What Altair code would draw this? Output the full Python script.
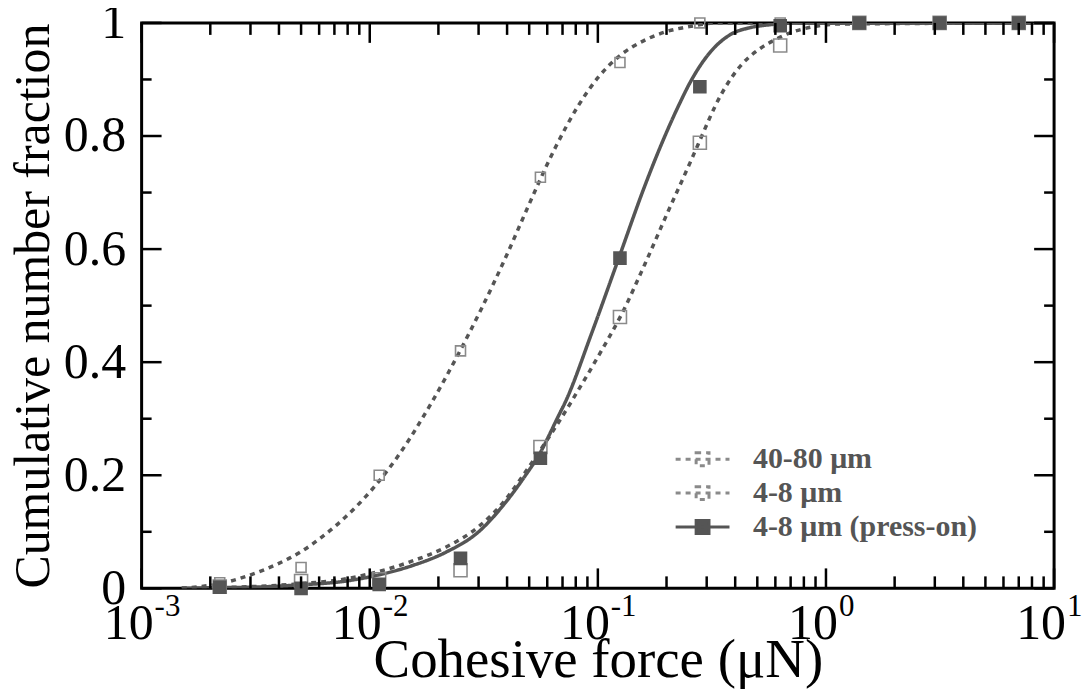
import altair as alt
import pandas as pd

series_names = ["40-80 μm", "4-8 μm", "4-8 μm (press-on)"]

# measured points (Cohesive force in µN, cumulative fraction)
pt_x = [0.0022, 0.005, 0.011, 0.025, 0.056, 0.125, 0.28, 0.63, 1.4, 3.15, 7.0]
pt_y_4080 = [0.003, 0.013, 0.016, 0.032, 0.25, 0.48, 0.788, 0.96, 1.0, 1.0, 1.0]
pt_y_48 = [0.01, 0.037, 0.2, 0.42, 0.727, 0.93, 1.0, 1.0, 1.0, 1.0, 1.0]
pt_y_press = [0.002, 0.0, 0.007, 0.053, 0.23, 0.584, 0.887, 0.995, 1.0, 1.0, 1.0]

# fitted curves
fit_x_48 = [0.0015, 0.0018, 0.00219, 0.00296, 0.00389, 0.00491, 0.00618, 0.00787, 0.00964,
            0.01178, 0.01315, 0.0187, 0.0245, 0.031, 0.0394, 0.0482, 0.055, 0.0652, 0.0822,
            0.1005, 0.123, 0.1614, 0.1973, 0.2564, 0.3365, 10]
fit_y_48 = [0.0, 0.003, 0.008, 0.023, 0.042, 0.063, 0.091, 0.127, 0.163,
            0.205, 0.231, 0.329, 0.415, 0.496, 0.585, 0.665, 0.717, 0.78, 0.854,
            0.904, 0.94, 0.97, 0.984, 0.994, 1.0, 1.0]

fit_x_4080 = [0.0015, 0.002, 0.003, 0.0049, 0.0079, 0.011, 0.0153, 0.0216, 0.030, 0.0394,
              0.0482, 0.055, 0.0721, 0.0797, 0.1036, 0.1268, 0.1614, 0.2034, 0.2564, 0.275,
              0.3467, 0.424, 0.503, 0.597, 0.7015, 0.807, 1.125, 10]
fit_y_4080 = [0.0, 0.001, 0.003, 0.008, 0.017, 0.03, 0.048, 0.073, 0.109, 0.157,
              0.206, 0.24, 0.313, 0.342, 0.42, 0.484, 0.575, 0.667, 0.757, 0.785,
              0.873, 0.925, 0.952, 0.97, 0.983, 0.99, 0.998, 1.0]

fit_x_press = [0.0015, 0.002, 0.003, 0.0049, 0.0079, 0.011, 0.0153, 0.0216, 0.030, 0.0394,
               0.0482, 0.055, 0.0672, 0.0721, 0.0937, 0.123, 0.1614, 0.184, 0.2249,
               0.2564, 0.3135, 0.3834, 0.4688, 0.573, 0.75, 10]
fit_y_press = [0.0, 0.001, 0.002, 0.006, 0.013, 0.024, 0.04, 0.064, 0.1, 0.152,
               0.2, 0.235, 0.305, 0.33, 0.45, 0.582, 0.714, 0.772, 0.852,
               0.898, 0.95, 0.98, 0.992, 0.997, 1.0, 1.0]

# axis ticks
x_major_ticks = [0.001, 0.01, 0.1, 1, 10]
x_tick_exponents = ["-3", "-2", "-1", "0", "1"]
x_minor_ticks = [0.002, 0.003, 0.004, 0.005, 0.006, 0.007, 0.008, 0.009,
                 0.02, 0.03, 0.04, 0.05, 0.06, 0.07, 0.08, 0.09,
                 0.2, 0.3, 0.4, 0.5, 0.6, 0.7, 0.8, 0.9,
                 2, 3, 4, 5, 6, 7, 8, 9]
y_major_ticks = [0, 0.2, 0.4, 0.6, 0.8, 1.0]
y_minor_ticks = [0.1, 0.3, 0.5, 0.7, 0.9]

W, H = 915, 567
FONT = "Liberation Serif"
GRAY = "#555555"

pts_rows = []
for name, ys in zip(series_names, [pt_y_4080, pt_y_48, pt_y_press]):
    for x, y in zip(pt_x, ys):
        pts_rows.append({"series": name, "force": x, "frac": y})
pts = pd.DataFrame(pts_rows)

fit_rows = []
for name, xs, ys in zip(series_names, [fit_x_4080, fit_x_48, fit_x_press],
                        [fit_y_4080, fit_y_48, fit_y_press]):
    for i, (x, y) in enumerate(zip(xs, ys)):
        fit_rows.append({"series": name, "force": x, "frac": y, "order": i})
fits = pd.DataFrame(fit_rows)

xscale = alt.Scale(type="log", domain=[0.001, 10], nice=False)
yscale = alt.Scale(domain=[0, 1], nice=False, zero=False)

x_axis = alt.Axis(labels=False, ticks=False, domain=False, grid=False,
                  title="Cohesive force (μN)", titleFontSize=55, titlePadding=45)
y_axis = alt.Axis(values=y_major_ticks, format="~g", labelFontSize=50, ticks=False,
                  domain=False, grid=False, labelPadding=16,
                  title="Cumulative number fraction", titleFontSize=50, titlePadding=5)

def X(field):
    return alt.X(field, scale=xscale, axis=x_axis)

def Y(field):
    return alt.Y(field, scale=yscale, axis=y_axis)

# legend symbol: a line 3.6 units long with a square in the middle
legend_path = "M-1.8,0H1.8M-0.43,-0.43H0.43V0.43H-0.43Z"
legend_def = alt.Legend(
    title=None, orient="none", legendX=546, legendY=421,
    symbolType=legend_path, symbolSize=900, symbolStrokeColor=GRAY,
    symbolStrokeWidth=3, labelFont=FONT, labelFontSize=30, labelFontWeight="bold",
    labelColor=GRAY, labelOffset=34, labelLimit=500, rowPadding=2, padding=0,
)

dash_scale = alt.Scale(domain=series_names, range=[[5, 5], [5, 5], [1, 0]])
fill_scale = alt.Scale(domain=series_names, range=["transparent", "transparent", GRAY])
stroke_scale = alt.Scale(domain=series_names, range=["#8a8a8a", "#8a8a8a", GRAY])

lines = alt.Chart(fits).mark_line(color=GRAY, strokeWidth=3.5, interpolate="monotone", clip=True).encode(
    x=X("force:Q"), y=Y("frac:Q"),
    strokeDash=alt.StrokeDash("series:N", scale=dash_scale, legend=legend_def),
    order="order:Q",
)

point_sizes = {series_names[0]: 170, series_names[1]: 100, series_names[2]: 144}
point_layers = []
for name in series_names:
    point_layers.append(
        alt.Chart(pts[pts["series"] == name]).mark_point(
            shape="square", filled=True, strokeWidth=1.6, opacity=1, size=point_sizes[name]
        ).encode(
            x=X("force:Q"), y=Y("frac:Q"),
            fill=alt.Fill("series:N", scale=fill_scale, legend=legend_def),
            stroke=alt.Stroke("series:N", scale=stroke_scale, legend=None),
        )
    )

xmaj = pd.DataFrame({"v": x_major_ticks, "e": x_tick_exponents})
xmin = pd.DataFrame({"v": x_minor_ticks})
ymaj = pd.DataFrame({"v": y_major_ticks})
ymin = pd.DataFrame({"v": y_minor_ticks})

def xticks(df, length):
    base = alt.Chart(df).mark_rule(color="black", strokeWidth=2.5)
    bottom = base.encode(x=X("v:Q"), y=alt.value(H), y2=alt.value(H - length))
    top = base.encode(x=X("v:Q"), y=alt.value(0), y2=alt.value(length))
    return [bottom, top]

def yticks(df, length):
    base = alt.Chart(df).mark_rule(color="black", strokeWidth=2.5)
    left = base.encode(y=Y("v:Q"), x=alt.value(0), x2=alt.value(length))
    right = base.encode(y=Y("v:Q"), x=alt.value(W), x2=alt.value(W - length))
    return [left, right]

tick_layers = xticks(xmaj, 20) + xticks(xmin, 12) + yticks(ymaj, 20) + yticks(ymin, 10)

lab10 = alt.Chart(xmaj).mark_text(font=FONT, fontSize=50, align="right", baseline="alphabetic",
                                   dx=12, color="black").encode(
    x=X("v:Q"), y=alt.value(H + 51), text=alt.value("10"))
labexp = alt.Chart(xmaj).mark_text(font=FONT, fontSize=31, align="left", baseline="alphabetic",
                                    dx=13, color="black").encode(
    x=X("v:Q"), y=alt.value(H + 28), text="e:N")

chart = alt.layer(lines, *point_layers, *tick_layers, lab10, labexp).properties(
    width=W, height=H,
    padding={"left": 134, "top": 14, "right": 30, "bottom": 110},
    autosize=alt.AutoSizeParams(type="none"),
).configure_view(stroke="black", strokeWidth=3).configure_axis(
    labelFont=FONT, titleFont=FONT, labelColor="black", titleColor="black", titleFontWeight="normal"
)

chart.save("out.html", embed_options={"renderer": "svg", "actions": False})
